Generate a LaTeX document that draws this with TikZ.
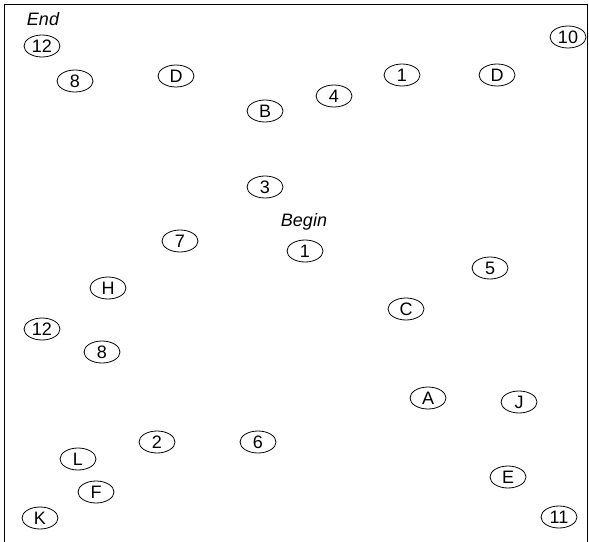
\documentclass[tikz,border=0pt]{standalone}
\usepackage{fontspec}
\setmainfont{Liberation Sans}
\usetikzlibrary{shapes.geometric}
\tikzset{
  st/.style={ellipse,draw,line width=0.8pt,inner sep=0pt,minimum width=36pt,minimum height=22pt,font=\fontsize{18}{20}\selectfont},
  lab/.style={font=\fontsize{18}{20}\selectfont\itshape,inner sep=0pt}
}
\begin{document}
\begin{tikzpicture}[x=1pt,y=-1pt]
\useasboundingbox (0,0) rectangle (589,541);
\draw[line width=1pt] (4,545) -- (4,4) -- (587,4) -- (587,545);
\node[lab] (tEnd) at (43,19) {End};
\node[st] (n12a) at (42,46) {12};
\node[st] (n8a) at (75,81) {8};
\node[st] (nDa) at (176,76) {D};
\node[st] (nB) at (265,111) {B};
\node[st] (n4) at (334,96) {4};
\node[st] (n1a) at (402,75) {1};
\node[st] (nDb) at (497,75) {D};
\node[st] (n10) at (568,37) {10};
\node[st] (n3) at (265,187) {3};
\node[lab] (tBegin) at (304,222) {Begin};
\node[st] (n1b) at (305,251) {1};
\node[st] (n7) at (180,241) {7};
\node[st] (n5) at (490,268) {5};
\node[st] (nH) at (108,288) {H};
\node[st] (nC) at (406,309) {C};
\node[st] (n12b) at (42,329) {12};
\node[st] (n8b) at (102,352) {8};
\node[st] (nA) at (428,398) {A};
\node[st] (nJ) at (519,402) {J};
\node[st] (n2) at (157,442) {2};
\node[st] (n6) at (258,442) {6};
\node[st] (nL) at (78,459) {L};
\node[st] (nE) at (508,477) {E};
\node[st] (nF) at (96,492) {F};
\node[st] (nK) at (40,518) {K};
\node[st] (n11) at (559,517) {11};
\end{tikzpicture}
\end{document}
